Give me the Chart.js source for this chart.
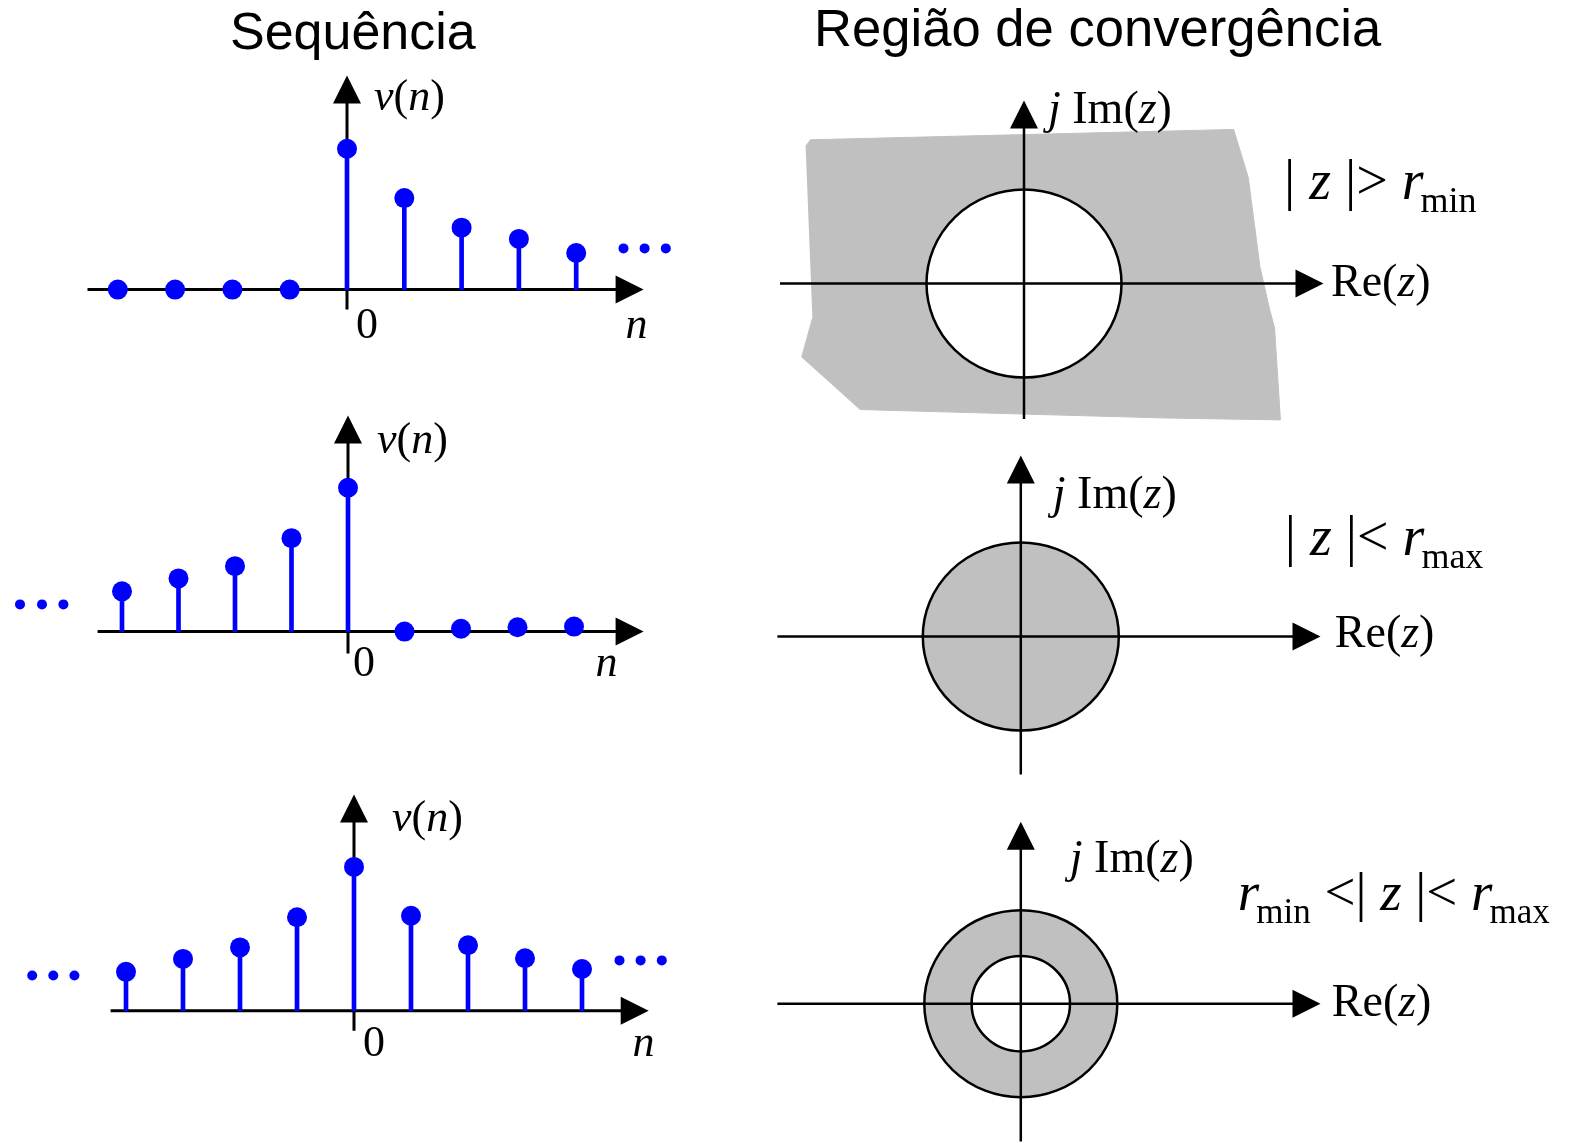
<!DOCTYPE html>
<html lang="pt">
<head>
<meta charset="utf-8">
<title>Sequência e região de convergência</title>
<script src="https://cdn.jsdelivr.net/npm/chart.js"></script>
<style>
  body { margin: 0; background: #fff; }
  #page { position: relative; width: 1577px; height: 1143px; overflow: hidden; background: #fff; }
  .title { position: absolute; font-family: "Liberation Sans", Arial, sans-serif; font-size: 52px;
           line-height: 52px; color: #000; white-space: nowrap; }
  canvas { position: absolute; }
</style>
</head>
<body>
<div id="page">
  <div class="title" style="left:230px;top:5px">Sequência</div>
  <div class="title" style="left:814px;top:2px;font-size:52.6px">Região de convergência</div>
</div>
<script>
// Sequências v(n), n = -4 ... 4 (amplitudes normalizadas pelo valor em n = 0)
const nIdx = [-4, -3, -2, -1, 0, 1, 2, 3, 4];
const vRight = [0, 0, 0, 0, 1, 0.65, 0.44, 0.36, 0.26];
const vLeft = [0.28, 0.37, 0.455, 0.65, 1, 0, 0.02, 0.03, 0.035];
const vTwoSided = [0.27, 0.36, 0.44, 0.65, 1, 0.66, 0.455, 0.365, 0.29];

// Regiões de convergência (raios normalizados)
const rMin = [1, null, 0.51];
const rMax = [null, 1, 1];

// contorno irregular da região |z| > rmin (plano z, unidades de rmin)
const regionRe = [-2.24, -2.19, 2.15, 2.3, 2.42, 2.52, 2.57, 2.63, 1.46, -1.68, -2.28, -2.17];
const regionIm = [1.46, 1.53, 1.64, 1.13, 0.18, -0.28, -0.47, -1.45, -1.43, -1.34, -0.78, -0.37];

const BLUE = '#0000ff';
const GRAY = '#c0c0c0';
const SERIF = '"Liberation Serif", "Times New Roman", serif';


// Helpers
function rich(ctx, x, y, parts, size) {
    ctx.save();
    ctx.fillStyle = '#000';
    ctx.textBaseline = 'alphabetic';
    ctx.textAlign = 'left';
    for (const p of parts) {
        const fs = p.sub ? Math.round(size * 0.64) : size;
        ctx.font = (p.it ? 'italic ' : '') + fs + 'px ' + SERIF;
        x += p.dx || 0;
        ctx.fillText(p.t, x, y + (p.sub ? Math.round(size * 0.24) : 0));
        x += ctx.measureText(p.t).width;
    }
    ctx.restore();
}

function arrowAxes(ctx, ox, oy, a, lw) {
    ctx.save();
    ctx.strokeStyle = '#000';
    ctx.fillStyle = '#000';
    ctx.lineWidth = lw;
    ctx.beginPath();
    ctx.moveTo(ox + a.x0, oy);
    ctx.lineTo(ox + a.x1 - 20, oy);
    ctx.moveTo(ox, oy + a.y0);
    ctx.lineTo(ox, oy + a.y1 + 20);
    ctx.stroke();
    ctx.beginPath();
    ctx.moveTo(ox + a.x1, oy);
    ctx.lineTo(ox + a.x1 - 28, oy - 14);
    ctx.lineTo(ox + a.x1 - 28, oy + 14);
    ctx.closePath();
    ctx.moveTo(ox, oy + a.y1);
    ctx.lineTo(ox - 14, oy + a.y1 + 28);
    ctx.lineTo(ox + 14, oy + a.y1 + 28);
    ctx.closePath();
    ctx.fill();
    ctx.restore();
}

function origin(chart) {
    return [chart.scales.x.getPixelForValue(0), chart.scales.y.getPixelForValue(0)];
}

function makeChart(box, org, unit, datasets, before, after) {
    const cv = document.createElement('canvas');
    cv.width = box[2];
    cv.height = box[3];
    cv.style.left = box[0] + 'px';
    cv.style.top = box[1] + 'px';
    cv.style.width = box[2] + 'px';
    cv.style.height = box[3] + 'px';
    document.getElementById('page').appendChild(cv);

    return new Chart(cv, {
        type: 'scatter',
        data: { datasets: datasets },
        options: {
            responsive: false,
            animation: false,
            devicePixelRatio: 1,
            events: [],
            layout: { padding: 0, autoPadding: false },
            plugins: { legend: { display: false }, tooltip: { enabled: false } },
            scales: {
                x: {
                    type: 'linear', display: false, bounds: 'data', offset: false,
                    min: (box[0] - org[0]) / unit[0],
                    max: (box[0] + box[2] - org[0]) / unit[0]
                },
                y: {
                    type: 'linear', display: false, bounds: 'data', offset: false,
                    min: (org[1] - box[1] - box[3]) / unit[1],
                    max: (org[1] - box[1]) / unit[1]
                }
            }
        },
        plugins: [{ id: 'deco', beforeDatasetsDraw: before, afterDatasetsDraw: after }]
    });
}


// Sequence panels (left)
const seqPanels = [
    { vals: vRight, box: [0, 60, 700, 290], org: [347, 289.6], unit: [57.3, 140.8],
      axes: { x0: -259.5, x1: 296.6, y0: 20, y1: -214 },
      vn: [27, -179.6], zero: [20, 48.4], n: [289.6, 48.4],
      dots: [[276.5, -41.2], [297.6, -41.2], [318.8, -41.2]] },
    { vals: vLeft, box: [0, 395, 700, 300], org: [348, 631.6], unit: [56.5, 143.8],
      axes: { x0: -250.4, x1: 295.6, y0: 22, y1: -216.2 },
      vn: [29, -178.6], zero: [16, 44.4], n: [258.4, 44.4],
      dots: [[-328, -27.2], [-306, -27.2], [-284.6, -27.2]] },
    { vals: vTwoSided, box: [0, 770, 700, 300], org: [354, 1010.7], unit: [57, 143.8],
      axes: { x0: -243.4, x1: 294.7, y0: 20, y1: -216.2 },
      vn: [38, -179.7], zero: [20, 45.3], n: [289.6, 45.3],
      dots: [[-321.8, -35.2], [-300.7, -35.2], [-279.6, -35.2],
             [265.5, -50.3], [286.6, -50.3], [307.8, -50.3]] }
];

seqPanels.forEach(p => {
    const pts = nIdx.map((k, i) => ({ x: k, y: p.vals[i] }));

    makeChart(p.box, p.org, p.unit, [
        { type: 'scatter', data: pts, pointRadius: 10, pointHoverRadius: 10,
          backgroundColor: BLUE, borderWidth: 0, order: 0 },
        { type: 'bar', data: pts, backgroundColor: BLUE, barThickness: 4,
          borderWidth: 0, order: 1 }
    ], chart => {
        const ctx = chart.ctx;
        const [ox, oy] = origin(chart);
        arrowAxes(ctx, ox, oy, p.axes, 3);
        ctx.fillStyle = BLUE;
        p.dots.forEach(d => {
            ctx.beginPath();
            ctx.arc(ox + d[0], oy + d[1], 5, 0, 2 * Math.PI);
            ctx.fill();
        });
    }, chart => {
        const ctx = chart.ctx;
        const [ox, oy] = origin(chart);
        rich(ctx, ox + p.vn[0], oy + p.vn[1],
             [{ t: 'v', it: 1 }, { t: '(' }, { t: 'n', it: 1 }, { t: ')' }], 44);
        ctx.save();
        ctx.fillStyle = '#000';
        ctx.textAlign = 'center';
        ctx.font = '44px ' + SERIF;
        ctx.fillText('0', ox + p.zero[0], oy + p.zero[1]);
        ctx.font = 'italic 44px ' + SERIF;
        ctx.fillText('n', ox + p.n[0], oy + p.n[1]);
        ctx.restore();
    });
});


// Region of convergence panels (right)
const imParts = [{ t: 'j', it: 1 }, { t: ' ' }, { t: 'Im(' }, { t: 'z', it: 1 }, { t: ')' }];
const reParts = [{ t: 'Re(' }, { t: 'z', it: 1 }, { t: ')' }];

const rocPanels = [
    { box: [760, 80, 817, 350], org: [1024, 283.6], unit: [97.5, 94],
      axes: { x0: -244, x1: 299.5, y0: 135.4, y1: -183 },
      im: [24, -160.6], re: [307, 12], cond: [260, -85], condSize: 56,
      condParts: [{ t: '|' }, { t: ' ' }, { t: 'z', it: 1 }, { t: ' ' }, { t: '|' }, { t: '>' },
                  { t: ' ' }, { t: 'r', it: 1 }, { t: 'min', sub: 1, dx: -3 }] },
    { box: [760, 440, 817, 340], org: [1020.8, 636.6], unit: [98, 94],
      axes: { x0: -243.4, x1: 299.7, y0: 137.8, y1: -181 },
      im: [32, -128.6], re: [314, 10], cond: [264, -81.6], condSize: 56,
      condParts: [{ t: '|' }, { t: ' ' }, { t: 'z', it: 1 }, { t: ' ' }, { t: '|' }, { t: '<' },
                  { t: ' ' }, { t: 'r', it: 1 }, { t: 'max', sub: 1, dx: -3 }] },
    { box: [760, 800, 817, 343], org: [1020.8, 1003.7], unit: [96.5, 93.5],
      axes: { x0: -243.4, x1: 299.7, y0: 137.8, y1: -182 },
      im: [49, -132], re: [311, 12], cond: [217, -93.7], condSize: 55,
      condParts: [{ t: 'r', it: 1 }, { t: 'min', sub: 1, dx: -3 }, { t: ' ' }, { t: '<' }, { t: '|' },
                  { t: ' ' }, { t: 'z', it: 1 }, { t: ' ' }, { t: '|' }, { t: '<' }, { t: ' ' },
                  { t: 'r', it: 1 }, { t: 'max', sub: 1, dx: -3 }] }
];

rocPanels.forEach((p, i) => {
    const datasets = [];
    if (i === 0) {
        datasets.push({
            type: 'line',
            data: regionRe.map((re, k) => ({ x: re, y: regionIm[k] })),
            fill: 'shape', backgroundColor: GRAY, borderColor: GRAY, borderWidth: 1,
            pointRadius: 0, tension: 0
        });
    }

    makeChart(p.box, p.org, p.unit, datasets, null, chart => {
        const ctx = chart.ctx;
        const xs = chart.scales.x, ys = chart.scales.y;
        const [ox, oy] = origin(chart);

        function circle(r, color) {
            const rx = xs.getPixelForValue(r) - ox;
            const ry = oy - ys.getPixelForValue(r);
            ctx.beginPath();
            ctx.ellipse(ox, oy, rx, ry, 0, 0, 2 * Math.PI);
            ctx.fillStyle = color;
            ctx.fill();
            ctx.lineWidth = 2.5;
            ctx.strokeStyle = '#000';
            ctx.stroke();
        }

        ctx.save();
        if (rMax[i] !== null) circle(rMax[i], GRAY);
        if (rMin[i] !== null) circle(rMin[i], '#fff');
        ctx.restore();

        arrowAxes(ctx, ox, oy, p.axes, 2.5);
        rich(ctx, ox + p.im[0], oy + p.im[1], imParts, 46);
        rich(ctx, ox + p.re[0], oy + p.re[1], reParts, 46);
        rich(ctx, ox + p.cond[0], oy + p.cond[1], p.condParts, p.condSize);
    });
});
</script>
</body>
</html>
